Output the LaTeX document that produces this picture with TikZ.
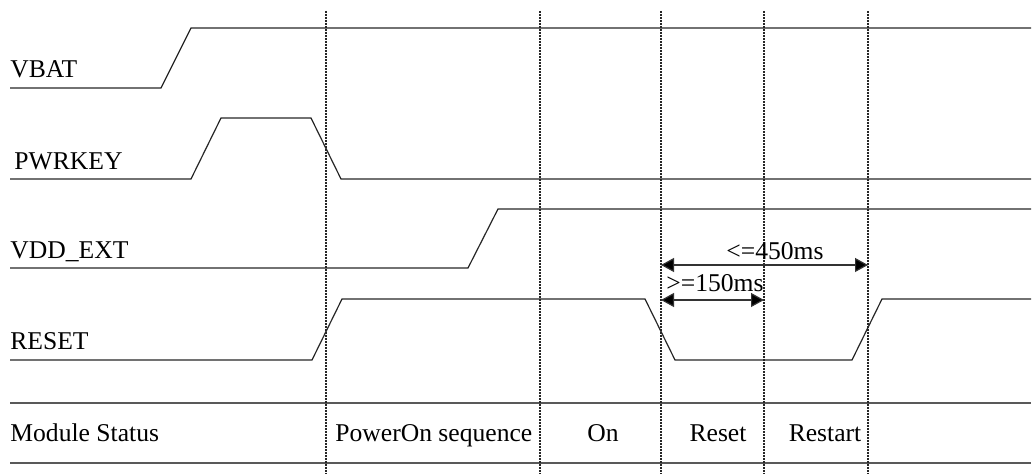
\documentclass[tikz,border=0pt]{standalone}
\usepackage{fontspec}
\setmainfont{Liberation Serif}
\usetikzlibrary{arrows.meta}
\tikzset{
  sig/.style={line width=0.6pt, black!85},
  tablerule/.style={line width=0.8pt, black!65},
  guide/.style={line width=0.6pt, black!85, dash pattern=on 0.8pt off 0.7pt},
  lbl/.style={inner sep=0pt, anchor=base west, font=\fontsize{12.8}{15}\selectfont},
  stat/.style={inner sep=0pt, anchor=base, font=\fontsize{12.8}{15}\selectfont},
  dimline/.style={line width=0.6pt, black!80,
    {Triangle[length=6.5pt,width=7pt,fill=black]}-{Triangle[length=6.5pt,width=7pt,fill=black]}},
}
\begin{document}
\begin{tikzpicture}[x=0.5pt,y=-0.5pt]
\useasboundingbox (0,0) rectangle (1033,474);
% signal names
\node[lbl] (vbat) at (10,78) {VBAT};
\node[lbl] (pwrkey) at (14,170) {PWRKEY};
\node[lbl] (vddext) at (10,259) {VDD\_EXT};
\node[lbl] (reset) at (10,350) {RESET};
\node[lbl] (status) at (10,442) {Module Status};
% waveforms
\draw[sig] (10,88) -- (161,88) -- (191,28) -- (1031,28);
\draw[sig] (10,179) -- (191,179) -- (221,118) -- (311,118) -- (341,179) -- (1031,179);
\draw[sig] (10,268) -- (468,268) -- (498,209) -- (1031,209);
\draw[sig] (10,360) -- (312,360) -- (342,299) -- (645,299) -- (675,360)
  -- (852,360) -- (882,299) -- (1031,299);
% status table
\draw[tablerule] (10,403) -- (1031,403);
\draw[tablerule] (10,463) -- (1031,463);
% phase boundaries
\foreach \x/\n in {326/t1,540/t2,661/t3,764/t4,868/t5}{
  \coordinate (\n top) at (\x,11);
  \coordinate (\n bot) at (\x,474);
  \draw[guide] (\n top) -- (\n bot);
}
% phases
\node[lbl] (poweron) at (335,442) {PowerOn sequence};
\node[stat] (on) at (603,442) {On};
\node[stat] (rst) at (718,442) {Reset};
\node[stat] (restart) at (825,442) {Restart};
% timing limits
\coordinate (maxl) at (661,265);
\coordinate (maxr) at (868,265);
\draw[dimline] (maxl) -- (maxr);
\node[stat] (maxt) at (775,260) {<=450ms};
\coordinate (minl) at (661,300);
\coordinate (minr) at (764,300);
\draw[dimline] (minl) -- (minr);
\node[stat] (mint) at (715,292) {>=150ms};
\end{tikzpicture}
\end{document}
